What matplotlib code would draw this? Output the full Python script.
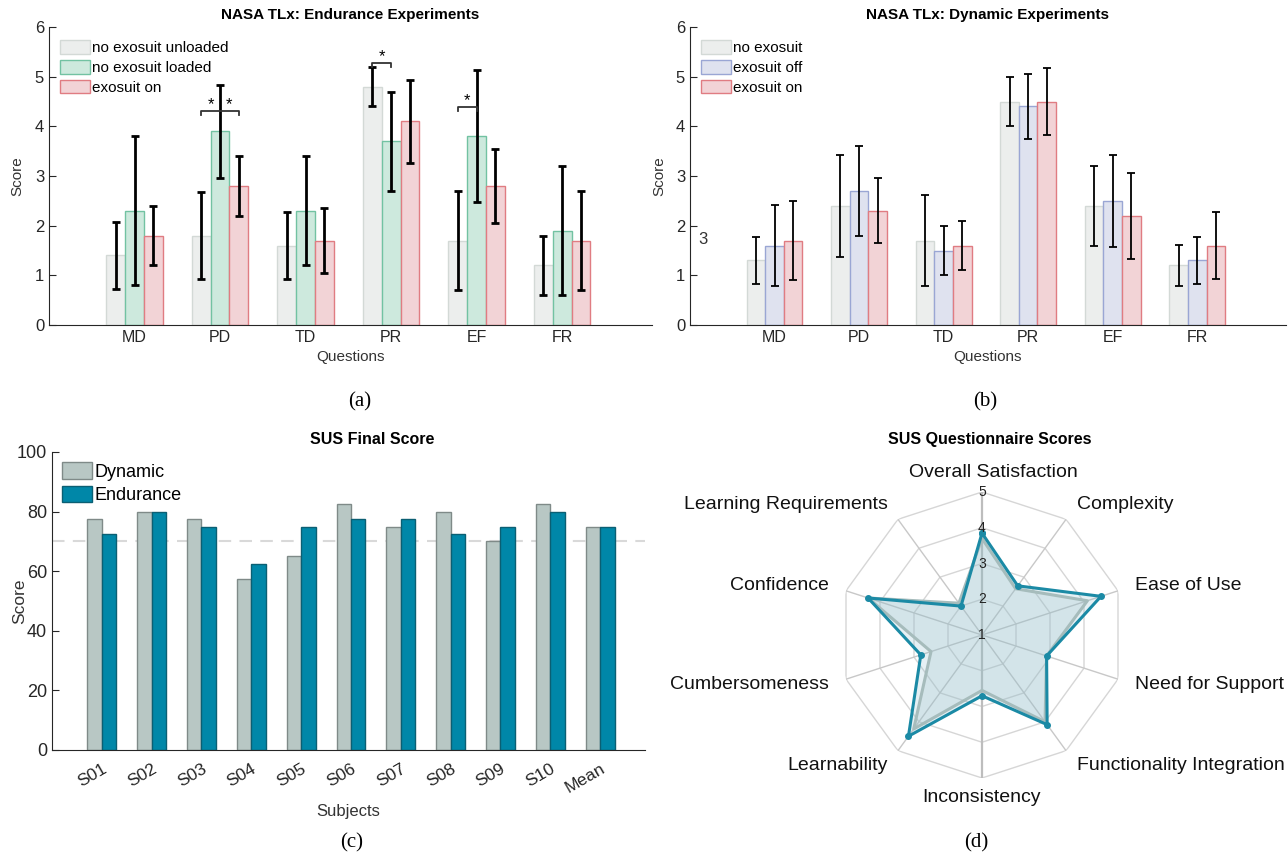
import numpy as np
import matplotlib
matplotlib.use('Agg')
import matplotlib.pyplot as plt

plt.rcParams['font.family'] = ['Liberation Sans', 'DejaVu Sans']

# ---- data ----
questions = ['MD', 'PD', 'TD', 'PR', 'EF', 'FR']

# (a) endurance experiments
end_labels = ['no exosuit unloaded', 'no exosuit loaded', 'exosuit on']
end_unloaded = [1.4, 1.8, 1.6, 4.8, 1.7, 1.2]
end_loaded = [2.3, 3.9, 2.3, 3.7, 3.8, 1.9]
end_on = [1.8, 2.8, 1.7, 4.1, 2.8, 1.7]
end_unloaded_sd = [0.67, 0.87, 0.67, 0.40, 1.00, 0.60]
end_loaded_sd = [1.50, 0.94, 1.10, 1.00, 1.33, 1.30]
end_on_sd = [0.60, 0.60, 0.65, 0.83, 0.75, 1.00]

# (b) dynamic experiments
dyn_labels = ['no exosuit', 'exosuit off', 'exosuit on']
dyn_none = [1.3, 2.4, 1.7, 4.5, 2.4, 1.2]
dyn_off = [1.6, 2.7, 1.5, 4.4, 2.5, 1.3]
dyn_on = [1.7, 2.3, 1.6, 4.5, 2.2, 1.6]
dyn_none_sd = [0.47, 1.03, 0.91, 0.50, 0.80, 0.41]
dyn_off_sd = [0.81, 0.90, 0.50, 0.66, 0.93, 0.47]
dyn_on_sd = [0.79, 0.65, 0.49, 0.67, 0.87, 0.67]

# (c) SUS final score
subjects = ['S01', 'S02', 'S03', 'S04', 'S05', 'S06', 'S07', 'S08', 'S09', 'S10', 'Mean']
sus_dynamic = [77.5, 80, 77.5, 57.5, 65, 82.5, 75, 80, 70, 82.5, 74.75]
sus_endurance = [72.5, 80, 75, 62.5, 75, 77.5, 77.5, 72.5, 75, 80, 74.75]
sus_threshold = 70

# (d) SUS questionnaire (clockwise from top)
sus_items = ['Overall Satisfaction', 'Complexity', 'Ease of Use', 'Need for Support',
             'Functionality Integration', 'Inconsistency', 'Learnability',
             'Cumbersomeness', 'Confidence', 'Learning Requirements']
radar_dynamic = [3.7, 2.6, 4.1, 2.9, 4.0, 2.55, 4.25, 2.5, 4.35, 2.1]
radar_endurance = [3.85, 2.7, 4.5, 2.9, 4.1, 2.7, 4.5, 2.8, 4.35, 2.0]

# ---- styles ----
c_gray, e_gray = '#eceeed', '#d3d9d6'
c_green, e_green = '#cde9dd', '#72c2a2'
c_pink, e_pink = '#f2d3d6', '#e07c82'
c_blue, e_blue = '#dfe2ef', '#9aa6d4'
c_dyn, e_dyn = '#b8c7c4', '#7f8a88'
c_end, e_end = '#0087a8', '#0b5f73'
axcol = '#262626'

W, H = 1288, 856
fig = plt.figure(figsize=(W / 100, H / 100), dpi=100)


def px_axes(x0, y0, x1, y1, **kw):
    return fig.add_axes([x0 / W, 1 - y1 / H, (x1 - x0) / W, (y1 - y0) / H], **kw)


def style_axes(ax):
    for s in ['top', 'right']:
        ax.spines[s].set_visible(False)
    for s in ['left', 'bottom']:
        ax.spines[s].set_color(axcol)
    ax.tick_params(direction='in', colors=axcol, length=5)


def grouped(ax, means, sds, colors, labels, lw_err, title, ylab_x):
    x = np.arange(1, len(questions) + 1)
    w = 0.22
    for i, (m, s, (fc, ec), lab) in enumerate(zip(means, sds, colors, labels)):
        xi = x + (i - 1) * w
        ax.bar(xi, m, w, color=fc, edgecolor=ec, linewidth=1, label=lab, zorder=2)
        ax.errorbar(xi, m, yerr=s, fmt='none', ecolor='black', elinewidth=lw_err,
                    capsize=3, capthick=lw_err, zorder=3)
    ax.set_xlim(0, 7.05)
    ax.set_ylim(0, 6)
    ax.set_xticks(x)
    ax.set_xticklabels(questions, fontsize=11.5)
    ax.set_yticks(range(7))
    ax.tick_params(axis='y', labelsize=12)
    ax.set_xlabel('Questions', fontsize=11, color='#333333')
    ax.set_ylabel('Score', fontsize=11, color='#333333')
    ax.yaxis.set_label_coords(ylab_x, 0.5)
    ax.set_title(title, fontsize=11, fontweight='bold', pad=6)
    style_axes(ax)
    ax.legend(loc='upper left', frameon=False, fontsize=11, handlelength=2.0,
              handleheight=1.0, handletextpad=0.1, labelspacing=0.3,
              borderpad=0, borderaxespad=0, bbox_to_anchor=(0.018, 0.955))


# (a)
ax_a = px_axes(49, 27, 652, 325)
grouped(ax_a, [end_unloaded, end_loaded, end_on],
        [end_unloaded_sd, end_loaded_sd, end_on_sd],
        [(c_gray, e_gray), (c_green, e_green), (c_pink, e_pink)],
        end_labels, 2.0, 'NASA TLx: Endurance Experiments', -0.041)


def bracket(ax, x0, x1, y, stars):
    ax.plot([x0, x0, x1, x1], [y - 0.08, y, y, y - 0.08], color='#333333', lw=1.3, zorder=4)
    for sx in stars:
        ax.text(sx, y - 0.02, '*', ha='center', va='bottom', fontsize=12, zorder=5)


bracket(ax_a, 2 - 0.22, 2 + 0.22, 4.3, [2 - 0.11, 2 + 0.11])
bracket(ax_a, 4 - 0.22, 4, 5.27, [4 - 0.11])
bracket(ax_a, 5 - 0.22, 5, 4.38, [5 - 0.11])

# (b)
ax_b = px_axes(690, 27, 1286, 325)
grouped(ax_b, [dyn_none, dyn_off, dyn_on],
        [dyn_none_sd, dyn_off_sd, dyn_on_sd],
        [(c_gray, e_gray), (c_blue, e_blue), (c_pink, e_pink)],
        dyn_labels, 1.3, 'NASA TLx: Dynamic Experiments', -0.040)
fig.text(703 / W, 1 - 240 / H, '3', fontsize=12, color='#333333', ha='center', va='center')

# (c)
ax_c = px_axes(52, 452, 645, 750)
xs = np.arange(1, len(subjects) + 1)
bw = 0.29
ax_c.axhline(sus_threshold, color='#d9d9d9', lw=1.5, ls=(0, (6, 4)), zorder=1)
ax_c.bar(xs - bw / 2, sus_dynamic, bw, color=c_dyn, edgecolor=e_dyn, linewidth=1,
         label='Dynamic', zorder=2)
ax_c.bar(xs + bw / 2, sus_endurance, bw, color=c_end, edgecolor=e_end, linewidth=1,
         label='Endurance', zorder=2)
ax_c.set_xlim(0, 11.9)
ax_c.set_ylim(0, 100)
ax_c.set_xticks(xs)
ax_c.set_xticklabels(subjects, rotation=30, ha='right', rotation_mode='anchor', fontsize=12.5)
ax_c.set_yticks(range(0, 101, 20))
ax_c.tick_params(axis='y', labelsize=13)
ax_c.set_xlabel('Subjects', fontsize=12, color='#333333', labelpad=6)
ax_c.set_ylabel('Score', fontsize=12.5, color='#333333')
ax_c.yaxis.set_label_coords(-0.042, 0.5)
ax_c.set_title('SUS Final Score', fontsize=11.5, fontweight='bold', pad=6,
               x=(372 - 52) / 593)
style_axes(ax_c)
ax_c.tick_params(axis='x', length=0, pad=8)
ax_c.legend(loc='upper left', frameon=False, fontsize=13, handlelength=1.65,
            handleheight=1.0, handletextpad=0.15, labelspacing=0.3,
            borderpad=0, borderaxespad=0, bbox_to_anchor=(0.017, 0.965))

# (d) radar
n = len(sus_items)
theta = np.arange(n) * 2 * np.pi / n
th_c = np.append(theta, theta[0])
ax_d = px_axes(982 - 143, 635 - 143, 982 + 143, 635 + 143, projection='polar')
ax_d.set_theta_zero_location('N')
ax_d.set_theta_direction(-1)
ax_d.set_ylim(1, 5)
ax_d.set_xticks([])
ax_d.set_yticks([])
ax_d.grid(False)
ax_d.spines['polar'].set_visible(False)
for r in [2, 3, 4, 5]:
    ax_d.plot(th_c, [r] * (n + 1), color='#d6d6d6', lw=1, zorder=1)
for i, t in enumerate(theta):
    ax_d.plot([t, t], [1, 5], color='#c8c8c8' if i % 5 else '#bdbdbd',
              lw=1 if i % 5 else 1.6, zorder=1)
dyn_c = np.append(radar_dynamic, radar_dynamic[0])
end_c = np.append(radar_endurance, radar_endurance[0])
ax_d.fill(th_c, dyn_c, color='#a9c6cc', alpha=0.25, zorder=2)
ax_d.fill(th_c, end_c, color='#7fb6c8', alpha=0.2, zorder=2)
ax_d.plot(th_c, dyn_c, color='#a6bcbc', lw=2.2, zorder=3)
ax_d.plot(th_c, end_c, color='#1b8aa5', lw=2.2, marker='o', ms=4, zorder=4)
for v in range(1, 6):
    ax_d.text(0, v, str(v), ha='center', va='center', fontsize=10, color='#222222', zorder=5)
for i, (t, lab) in enumerate(zip(theta, sus_items)):
    s = np.sin(t)
    if abs(s) < 0.1:
        ha, r = 'center', 5.55
        if i == 0:
            t = 0.07
    elif s > 0:
        ha, r = 'left', 5.5
    else:
        ha, r = 'right', 5.5
    ax_d.text(t, r, lab, ha=ha, va='center', fontsize=14, color='#111111')
fig.text(990 / W, 1 - 440 / H, 'SUS Questionnaire Scores', ha='center', va='center',
         fontsize=11.5, fontweight='bold')

# captions
for cx, cy, lab in [(360, 402, '(a)'), (985, 402, '(b)'), (352, 843, '(c)'), (976, 843, '(d)')]:
    fig.text(cx / W, 1 - cy / H, lab, ha='center', va='center', fontsize=15,
             family='Liberation Serif')

fig.savefig('out.png', dpi=100)
